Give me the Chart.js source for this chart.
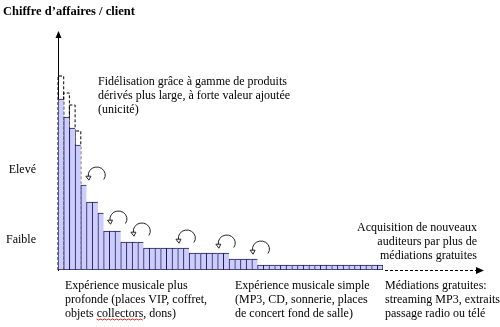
<!DOCTYPE html>
<html lang="fr">
<head>
<meta charset="utf-8">
<title>Chiffre d’affaires / client</title>
<script src="https://cdn.jsdelivr.net/npm/chart.js@4.4.1/dist/chart.umd.min.js"></script>
<style>
  html, body { margin: 0; padding: 0; background: #fff; }
  #graphique { display: block; }
</style>
</head>
<body>
<canvas id="graphique" width="500" height="327"></canvas>
<script>
// Clients classés du plus rentable au moins rentable
const clients = Array.from({ length: 57 }, (_, i) => 'Client ' + (i + 1));

// Chiffre d'affaires par client (unités relatives)
const chiffreAffaires = [
  171, 153, 142, 125, 85, 68, 68, 57, 39, 39, 39,
  28, 28, 28, 28,
  22, 22, 22, 22, 22, 22, 22, 22,
  17, 17, 17, 17, 17, 17, 17,
  11, 11, 11, 11, 11,
  5, 5, 5, 5, 5, 5, 5, 5, 5, 5, 5, 5, 5, 5, 5, 5, 5, 5, 5, 5, 5, 5
];

// Chiffre d'affaires visé grâce aux produits dérivés (contours en pointillés)
const potentielFidelisation = [194, 177, 165, 139];

// Graduations de l'axe vertical
const niveauxValeurs = [30, 100];
const niveauxLibelles = ['Faible', 'Elevé'];

// Flèches courbes : position (rang du client, niveau)
const flechesRang = [6.3, 10.1, 14.2, 22.1, 29.1, 35.1];
const flechesNiveau = [95, 51, 39, 32, 27, 21];

// Textes explicatifs
const blocs = [
  { x: 98, y: 82, align: 'left', lignes: ['Fidélisation grâce à gamme de produits', 'dérivés plus large, à forte valeur ajoutée', '(unicité)'] },
  { x: 477, y: 228, align: 'right', lignes: ['Acquisition de nouveaux', 'auditeurs par plus de', 'médiations gratuites'] },
  { x: 65, y: 286, align: 'left', lignes: ['Expérience musicale plus', 'profonde (places VIP, coffret,', 'objets collectors, dons)'] },
  { x: 235, y: 286, align: 'left', lignes: ['Expérience musicale simple', '(MP3, CD, sonnerie, places', 'de concert fond de salle)'] },
  { x: 385, y: 286, align: 'left', lignes: ['Médiations gratuites:', 'streaming MP3, extraits,', 'passage radio ou télé'] }
];

const police = '12px "Liberation Serif", "Times New Roman", serif';

// Petite flèche en arc avec pointe creuse
function dessinerArc(ctx, cx, cy) {
  const rx = 8.5, ry = 8;
  ctx.beginPath();
  ctx.ellipse(cx, cy, rx, ry, 0, 0.6, Math.PI - 0.15, true);
  ctx.stroke();
  const px = cx - rx * Math.cos(0.15);
  const py = cy + ry * Math.sin(0.15);
  ctx.beginPath();
  ctx.moveTo(px - 2.5, py);
  ctx.lineTo(px + 2.5, py);
  ctx.lineTo(px + 0.5, py + 4);
  ctx.closePath();
  ctx.fillStyle = '#fff';
  ctx.fill();
  ctx.stroke();
}

const decorations = {
  id: 'decorations',
  beforeDatasetsDraw(chart) {
    // contours en pointillés, cachés en partie par les barres pleines
    const ctx = chart.ctx;
    const meta = chart.getDatasetMeta(1);
    ctx.save();
    ctx.setLineDash([3, 2]);
    ctx.strokeStyle = '#000';
    ctx.lineWidth = 1;
    meta.data.forEach(barre => {
      const p = barre.getProps(['x', 'y', 'base', 'width'], true);
      const gauche = p.x - p.width / 2;
      const droite = p.x + p.width / 2;
      ctx.beginPath();
      ctx.moveTo(gauche, p.base);
      ctx.lineTo(gauche, p.y);
      ctx.lineTo(droite, p.y);
      ctx.lineTo(droite, p.base);
      ctx.stroke();
    });
    ctx.restore();
  },
  afterDatasetsDraw(chart) {
    const ctx = chart.ctx;
    const zone = chart.chartArea;
    const xs = chart.scales.x;
    const ys = chart.scales.y;
    ctx.save();

    // pointe de l'axe vertical
    ctx.fillStyle = '#000';
    ctx.beginPath();
    ctx.moveTo(zone.left + 0.5, zone.top - 6);
    ctx.lineTo(zone.left - 2.5, zone.top + 1);
    ctx.lineTo(zone.left + 3.5, zone.top + 1);
    ctx.closePath();
    ctx.fill();

    // axe horizontal prolongé en pointillés
    const yBase = ys.getPixelForValue(0) + 0.5;
    ctx.strokeStyle = '#000';
    ctx.lineWidth = 1;
    ctx.setLineDash([3, 2]);
    ctx.beginPath();
    ctx.moveTo(zone.right + 2, yBase);
    ctx.lineTo(zone.right + 94, yBase);
    ctx.stroke();
    ctx.setLineDash([]);
    ctx.beginPath();
    ctx.moveTo(zone.right + 101, yBase);
    ctx.lineTo(zone.right + 93, yBase - 3.5);
    ctx.lineTo(zone.right + 93, yBase + 3.5);
    ctx.closePath();
    ctx.fill();

    // flèches courbes au-dessus des paliers
    ctx.strokeStyle = '#222';
    flechesRang.forEach((rang, i) => {
      dessinerArc(ctx, xs.getPixelForValue(rang), ys.getPixelForValue(flechesNiveau[i]));
    });

    // textes
    ctx.font = police;
    ctx.fillStyle = '#000';
    ctx.textBaseline = 'middle';
    blocs.forEach(bloc => {
      ctx.textAlign = bloc.align;
      bloc.lignes.forEach((ligne, j) => {
        ctx.fillText(ligne, bloc.x, bloc.y + j * 14);
      });
    });

    // soulignement ondulé sous "collectors"
    ctx.textAlign = 'left';
    const x0 = 65 + ctx.measureText('objets ').width;
    const largeur = ctx.measureText('collectors').width;
    const yOnde = 286 + 28 + 5;
    ctx.strokeStyle = '#e02020';
    ctx.beginPath();
    ctx.moveTo(x0, yOnde);
    for (let x = x0; x <= x0 + largeur; x += 2) {
      ctx.lineTo(x, yOnde + ((x - x0) % 4 === 0 ? 0 : 1));
    }
    ctx.stroke();

    ctx.restore();
  }
};

const ctx = document.getElementById('graphique').getContext('2d');

new Chart(ctx, {
  type: 'bar',
  data: {
    labels: clients,
    datasets: [
      {
        label: 'Chiffre d’affaires',
        data: chiffreAffaires,
        backgroundColor: '#ccccff',
        borderColor: '#1c1c50',
        borderSkipped: false,
        borderWidth: c => ({ top: 1, bottom: 1, left: 1, right: c.dataIndex === chiffreAffaires.length - 1 ? 1 : 0 }),
        categoryPercentage: 1,
        barPercentage: 1,
        grouped: false
      },
      {
        label: 'Potentiel',
        data: potentielFidelisation,
        backgroundColor: 'rgba(0,0,0,0)',
        borderWidth: 0,
        categoryPercentage: 1,
        barPercentage: 1,
        grouped: false
      }
    ]
  },
  options: {
    responsive: false,
    animation: false,
    layout: { padding: { left: 3, right: 117, top: 0, bottom: 57 } },
    plugins: {
      legend: { display: false },
      tooltip: { enabled: false },
      title: {
        display: true,
        text: 'Chiffre d’affaires / client',
        align: 'start',
        color: '#000',
        font: { family: '"Liberation Serif", "Times New Roman", serif', size: 12.5, weight: 'bold' },
        padding: { top: 4, bottom: 18 }
      }
    },
    scales: {
      x: { display: false },
      y: {
        min: 0,
        max: 233,
        grid: { display: false, drawTicks: false },
        border: { display: true, color: '#000', dash: [3, 2], width: 1 },
        afterFit: scale => { scale.width = 55; },
        afterBuildTicks: scale => { scale.ticks = niveauxValeurs.map(v => ({ value: v })); },
        ticks: {
          crossAlign: 'near',
          padding: 22,
          color: '#000',
          font: { family: '"Liberation Serif", "Times New Roman", serif', size: 12 },
          callback: v => niveauxLibelles[niveauxValeurs.indexOf(v)]
        }
      }
    }
  },
  plugins: [decorations]
});
</script>
</body>
</html>
